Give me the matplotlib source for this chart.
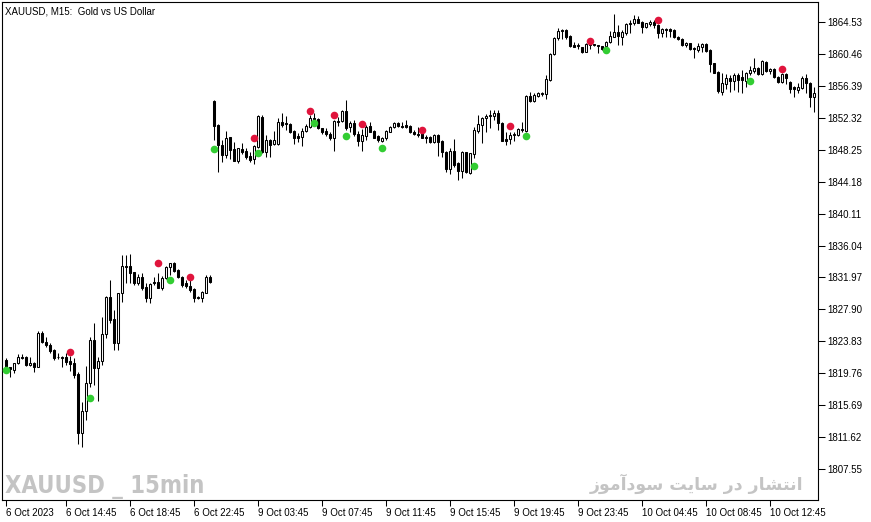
import numpy as np
import matplotlib
matplotlib.use('Agg')
import matplotlib.pyplot as plt
from matplotlib import font_manager as fm

# 15 分钟 K 线 (XAUUSD, 6 Oct 11:00 -> 10 Oct 15:30)
opens = [
    1821.4, 1820.5, 1820.2, 1821.0, 1821.8, 1821.8, 1820.8, 1821.0, 1820.5, 1824.9,
    1823.8, 1823.4, 1822.7, 1821.8, 1821.8, 1821.8, 1821.3, 1821.0, 1819.6, 1812.2,
    1814.9, 1818.5, 1824.0, 1820.4, 1821.3, 1824.7, 1829.5, 1826.7, 1823.6, 1830.0,
    1833.4, 1833.4, 1832.6, 1831.3, 1832.0, 1830.7, 1829.3, 1831.4, 1831.4, 1830.6,
    1831.9, 1833.3, 1833.8, 1832.9, 1832.0, 1831.2, 1830.9, 1830.5, 1829.5, 1829.3,
    1830.0, 1832.0,
    1854.5, 1851.4, 1848.9, 1847.6, 1849.9, 1848.3, 1846.8, 1848.3, 1848.1, 1847.4,
    1847.1, 1848.6, 1852.4, 1848.0, 1849.5, 1849.0, 1849.0, 1851.8, 1851.6, 1851.5,
    1850.6, 1850.0, 1849.9, 1850.6, 1851.1, 1852.3, 1852.2, 1851.0, 1850.6, 1850.3,
    1849.7, 1851.9, 1851.9, 1853.2, 1851.1, 1851.7, 1850.3, 1849.4, 1850.0, 1851.3,
    1850.6, 1850.0, 1849.4, 1849.7, 1850.5, 1851.1, 1851.7, 1851.3, 1851.4, 1851.3,
    1850.5, 1850.3, 1850.4, 1849.9, 1849.9, 1849.2, 1850.1, 1849.4, 1848.0, 1845.8,
    1848.1, 1846.5, 1845.5, 1848.0, 1845.3, 1847.7, 1850.6, 1851.4, 1852.3, 1852.5,
    1852.5, 1852.9, 1851.7, 1849.6, 1849.6, 1850.1, 1850.1, 1850.9, 1850.6, 1855.1,
    1854.5, 1855.1, 1855.4, 1855.4, 1857.1, 1860.4, 1862.5, 1863.5, 1863.5, 1862.7,
    1861.6, 1861.6, 1861.3, 1860.7, 1861.6, 1861.7, 1861.6, 1861.5, 1861.5, 1862.0,
    1862.6, 1863.3, 1862.6, 1863.1, 1864.3, 1864.4, 1864.9, 1864.5, 1863.9, 1864.3,
    1864.5, 1864.1, 1863.1, 1863.6, 1863.6, 1863.5, 1862.6, 1862.4, 1861.6, 1861.9,
    1861.2, 1861.0, 1861.3, 1861.7, 1861.0, 1859.3, 1858.2, 1855.6, 1856.6, 1857.4,
    1857.0, 1857.8, 1857.5, 1857.0, 1858.0, 1858.3, 1858.7, 1857.9, 1859.4, 1858.3,
    1858.5, 1857.5, 1856.9, 1857.9, 1856.9, 1856.2, 1855.9, 1856.1, 1857.4, 1856.8,
    1855.0,
]
highs = [
    1821.7, 1820.6, 1821.1, 1822.2, 1822.2, 1821.9, 1821.8, 1821.2, 1825.1, 1825.1,
    1824.4, 1823.6, 1822.8, 1822.4, 1821.9, 1822.4, 1821.9, 1821.7, 1819.9, 1816.1,
    1820.7, 1824.4, 1826.2, 1821.8, 1826.9, 1829.6, 1831.6, 1827.8, 1830.0, 1834.8,
    1834.8, 1834.9, 1832.7, 1832.4, 1832.5, 1831.3, 1831.3, 1832.0, 1832.5, 1832.1,
    1833.4, 1833.8, 1833.9, 1833.0, 1832.1, 1831.6, 1832.0, 1830.6, 1829.6, 1830.2,
    1832.3, 1832.3,
    1854.6, 1851.5, 1849.5, 1850.6, 1849.9, 1849.2, 1848.5, 1849.1, 1848.5, 1848.0,
    1848.9, 1852.7, 1852.7, 1850.1, 1849.6, 1850.6, 1852.3, 1852.9, 1852.5, 1851.7,
    1850.8, 1850.4, 1851.0, 1851.5, 1852.7, 1852.9, 1852.3, 1851.0, 1851.0, 1850.5,
    1852.0, 1852.4, 1853.3, 1854.6, 1851.9, 1852.0, 1850.6, 1850.9, 1851.4, 1851.8,
    1850.8, 1850.1, 1849.9, 1850.8, 1851.3, 1851.8, 1851.8, 1851.8, 1852.0, 1851.4,
    1850.8, 1851.1, 1850.8, 1850.1, 1850.0, 1850.3, 1850.3, 1849.5, 1848.1, 1848.5,
    1849.6, 1846.7, 1848.1, 1848.0, 1847.8, 1851.1, 1852.7, 1852.4, 1852.8, 1853.3,
    1853.3, 1853.3, 1851.8, 1850.5, 1850.5, 1850.5, 1851.0, 1851.8, 1855.2, 1855.6,
    1855.5, 1855.6, 1855.6, 1857.8, 1860.6, 1862.6, 1863.8, 1863.6, 1863.6, 1862.9,
    1862.0, 1861.9, 1861.3, 1861.9, 1862.2, 1861.7, 1861.6, 1861.5, 1862.1, 1863.4,
    1865.5, 1864.1, 1863.5, 1864.4, 1864.8, 1865.4, 1865.3, 1864.7, 1864.4, 1864.8,
    1864.8, 1864.3, 1863.8, 1863.8, 1863.8, 1863.6, 1862.7, 1862.5, 1862.0, 1861.9,
    1861.3, 1861.9, 1861.9, 1861.9, 1861.1, 1859.3, 1858.3, 1858.0, 1857.9, 1857.8,
    1858.0, 1858.0, 1858.4, 1858.2, 1858.9, 1859.9, 1858.8, 1859.7, 1859.6, 1858.7,
    1858.7, 1857.6, 1858.0, 1858.0, 1857.0, 1856.4, 1856.8, 1857.6, 1857.9, 1856.9,
    1856.2,
]
lows = [
    1819.9, 1819.3, 1819.8, 1820.9, 1821.6, 1820.7, 1820.7, 1819.9, 1820.5, 1823.6,
    1823.1, 1822.4, 1821.4, 1821.6, 1820.5, 1820.8, 1820.0, 1819.1, 1810.8, 1810.3,
    1813.8, 1818.0, 1818.2, 1816.2, 1820.8, 1824.2, 1826.2, 1822.7, 1822.7, 1828.8,
    1831.3, 1831.3, 1831.0, 1831.0, 1830.4, 1828.8, 1828.7, 1831.0, 1830.6, 1830.4,
    1831.8, 1832.3, 1832.7, 1831.9, 1830.7, 1830.6, 1830.1, 1828.8, 1829.2, 1828.8,
    1830.0, 1831.2,
    1849.5, 1845.4, 1846.7, 1847.2, 1847.1, 1846.8, 1846.6, 1847.7, 1847.1, 1846.7,
    1846.4, 1848.5, 1847.8, 1847.3, 1847.3, 1848.9, 1848.9, 1851.1, 1850.8, 1850.4,
    1849.0, 1849.2, 1848.7, 1850.5, 1851.0, 1851.8, 1850.9, 1850.3, 1850.0, 1849.5,
    1848.1, 1851.3, 1851.8, 1850.8, 1850.5, 1850.0, 1848.7, 1848.1, 1849.5, 1850.5,
    1849.7, 1849.2, 1849.2, 1849.5, 1850.5, 1851.0, 1851.1, 1851.0, 1851.0, 1850.4,
    1850.1, 1849.9, 1849.7, 1849.1, 1849.1, 1849.1, 1847.4, 1847.3, 1845.4, 1845.2,
    1846.0, 1844.4, 1844.6, 1845.3, 1845.2, 1847.2, 1850.4, 1849.1, 1850.5, 1851.0,
    1852.0, 1850.8, 1849.4, 1848.9, 1849.0, 1849.4, 1850.0, 1850.5, 1850.5, 1854.3,
    1854.3, 1855.0, 1855.1, 1854.7, 1857.0, 1860.3, 1862.2, 1862.4, 1862.4, 1861.3,
    1861.3, 1861.1, 1860.6, 1860.7, 1861.1, 1861.5, 1860.6, 1861.0, 1861.2, 1861.9,
    1862.6, 1861.6, 1861.6, 1862.9, 1863.1, 1864.1, 1864.4, 1863.1, 1863.8, 1864.0,
    1863.8, 1862.5, 1862.6, 1862.6, 1862.6, 1862.5, 1862.2, 1861.5, 1861.3, 1861.0,
    1859.9, 1860.7, 1860.7, 1860.7, 1858.2, 1858.0, 1855.5, 1855.2, 1856.0, 1855.6,
    1855.9, 1855.6, 1855.5, 1856.2, 1857.8, 1858.0, 1857.8, 1857.8, 1858.2, 1857.9,
    1857.4, 1856.7, 1856.7, 1856.6, 1855.5, 1855.0, 1855.5, 1856.0, 1855.5, 1853.7,
    1853.1,
]
closes = [
    1820.3, 1820.3, 1821.0, 1821.8, 1821.7, 1820.8, 1821.0, 1820.5, 1824.9, 1823.7,
    1823.3, 1822.6, 1821.7, 1821.8, 1821.7, 1821.2, 1820.9, 1819.5, 1812.2, 1815.0,
    1818.5, 1824.0, 1820.4, 1821.3, 1824.7, 1829.5, 1826.5, 1823.6, 1830.0, 1833.4,
    1833.3, 1832.5, 1831.3, 1832.0, 1830.6, 1829.3, 1831.1, 1831.2, 1830.6, 1831.9,
    1833.3, 1833.8, 1832.8, 1832.0, 1831.0, 1830.9, 1830.4, 1829.3, 1829.3, 1830.1,
    1832.0, 1831.4,
    1851.3, 1848.9, 1847.6, 1849.7, 1848.2, 1846.8, 1848.5, 1848.0, 1847.3, 1846.9,
    1848.7, 1852.5, 1848.0, 1849.5, 1848.9, 1849.5, 1851.8, 1851.4, 1851.5, 1850.5,
    1849.7, 1849.7, 1850.6, 1851.3, 1852.3, 1852.2, 1851.0, 1850.5, 1850.3, 1849.7,
    1851.9, 1851.8, 1853.2, 1851.0, 1851.7, 1850.3, 1849.4, 1850.1, 1851.1, 1850.5,
    1849.7, 1849.5, 1849.7, 1850.6, 1851.1, 1851.7, 1851.3, 1851.1, 1851.1, 1850.5,
    1850.3, 1850.1, 1849.7, 1849.7, 1849.2, 1850.1, 1849.2, 1848.0, 1845.8, 1848.1,
    1846.3, 1845.5, 1848.0, 1845.4, 1847.8, 1850.8, 1851.5, 1852.3, 1852.5, 1852.7,
    1852.9, 1851.7, 1849.4, 1849.4, 1850.1, 1850.3, 1850.9, 1850.8, 1855.1, 1854.5,
    1855.2, 1855.5, 1855.5, 1857.3, 1860.4, 1862.5, 1863.4, 1863.4, 1862.6, 1861.5,
    1861.3, 1861.5, 1860.7, 1861.7, 1861.9, 1861.6, 1861.5, 1861.1, 1862.0, 1862.7,
    1863.3, 1862.7, 1863.3, 1864.3, 1864.4, 1864.9, 1864.4, 1863.9, 1864.4, 1864.5,
    1864.1, 1863.1, 1863.6, 1863.5, 1863.4, 1862.6, 1862.4, 1861.6, 1861.9, 1861.1,
    1861.1, 1861.5, 1861.7, 1860.8, 1859.2, 1858.0, 1855.7, 1856.7, 1857.4, 1857.0,
    1857.8, 1857.1, 1857.1, 1858.0, 1858.4, 1858.7, 1857.9, 1859.6, 1858.3, 1858.5,
    1857.5, 1856.9, 1857.9, 1857.4, 1856.0, 1856.0, 1856.2, 1857.4, 1856.8, 1855.0,
    1855.5,
]

# 信号点 (红: 上方, 绿: 下方)
red_idx = [16, 38, 46, 62, 76, 82, 89, 104, 126, 146, 163, 194]
red_price = [1822.5, 1833.8, 1832.0, 1849.7, 1853.2, 1852.7, 1851.5, 1850.8, 1851.3, 1862.1, 1864.8, 1858.5]
green_idx = [0, 21, 41, 52, 63, 77, 85, 94, 117, 130, 150, 186]
green_price = [1820.2, 1816.6, 1831.6, 1848.3, 1847.8, 1851.7, 1850.0, 1848.5, 1846.2, 1850.0, 1861.0, 1857.0]

# 坐标轴刻度
ytick_vals = [1807.55, 1811.62, 1815.69, 1819.76, 1823.83, 1827.90, 1831.97, 1836.04,
              1840.11, 1844.18, 1848.25, 1852.32, 1856.39, 1860.46, 1864.53]
xtick_pos = [0, 15, 31, 47, 63, 79, 95, 111, 127, 143, 159, 175, 191]
xtick_labels = ['6 Oct 2023', '6 Oct 14:45', '6 Oct 18:45', '6 Oct 22:45', '9 Oct 03:45',
                '9 Oct 07:45', '9 Oct 11:45', '9 Oct 15:45', '9 Oct 19:45', '9 Oct 23:45',
                '10 Oct 04:45', '10 Oct 08:45', '10 Oct 12:45']

title_text = 'XAUUSD, M15:  Gold vs US Dollar'
mark_text = 'XAUUSD _ 15min'
# "انتشار در سایت سودآموز" 以表现形式写出 (matplotlib 不做阿拉伯文连写)
fa_text = '\ufeaf\ufeee\ufee3\ufe81\ufea9\ufeee\ufeb3 \ufe96\ufef3\ufe8e\ufeb3 \ufead\ufea9 \ufead\ufe8e\ufeb8\ufe98\ufee7\ufe8d'

plt.rcParams['font.family'] = ['Liberation Sans', 'DejaVu Sans']

# 水印用窄体字, 没有就退回 DejaVu Sans 的 condensed
names = {f.name for f in fm.fontManager.ttflist}
narrow = 'Liberation Sans Narrow' in names
mark_family = 'Liberation Sans Narrow' if narrow else 'DejaVu Sans'
mark_size = 22 if narrow else 17

W, H = 871, 522
fig = plt.figure(figsize=(W / 100, H / 100), dpi=100)
ax = fig.add_axes([2 / W, 1 - 500 / H, 816 / W, 498 / H])

o = np.array(opens)
c = np.array(closes)
x = np.arange(len(o))
up = c >= o

# 影线
ax.vlines(x, lows, highs, color='black', linewidth=0.75, zorder=2)
# 实体
bottom = np.minimum(o, c)
height = np.maximum(np.abs(c - o), 0.05)
face = np.where(up, 'white', 'black')
ax.bar(x, height, bottom=bottom, width=0.5, color=face, edgecolor='black',
       linewidth=0.75, zorder=3)

ax.scatter(red_idx, red_price, s=30, color='#e0143c', linewidths=0, zorder=5)
ax.scatter(green_idx, green_price, s=30, color='#32cd32', linewidths=0, zorder=5)

ax.set_xlim(-1, 203)
ax.set_ylim(1803.6, 1867.08)

ax.yaxis.tick_right()
ax.set_yticks(ytick_vals)
ax.set_yticklabels(['%.2f' % v for v in ytick_vals])
ax.tick_params(axis='y', direction='out', length=5, width=0.75, pad=2, labelsize=7)

ax.set_xticks(xtick_pos)
ax.set_xticklabels(xtick_labels, ha='left')
ax.tick_params(axis='x', direction='out', length=4, width=0.75, pad=2, labelsize=7)

for s in ax.spines.values():
    s.set_linewidth(0.8)

fig.text(5 / W, 1 - 14 / H, title_text, fontsize=7, va='baseline')
fig.text(5 / W, 1 - 493 / H, mark_text, fontsize=mark_size, fontweight='bold',
         fontstretch='condensed', color='#c4c4c4', family=mark_family, va='baseline')
fig.text(803 / W, 1 - 490 / H, fa_text, fontsize=12.5, fontweight='bold', color='#c4c4c4',
         family=['DejaVu Sans'], ha='right', va='baseline')

fig.savefig('out.png', dpi=100)
